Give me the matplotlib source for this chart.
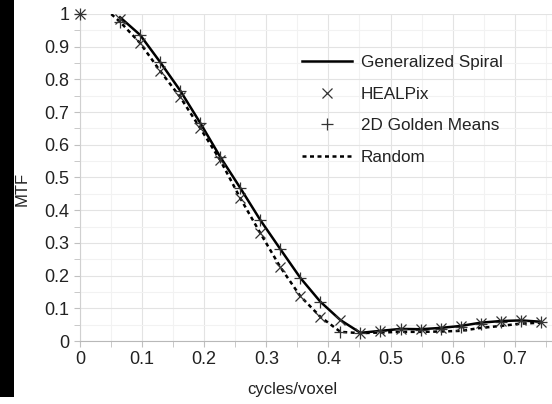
import numpy as np
import matplotlib
matplotlib.use("Agg")
import matplotlib.pyplot as plt
from matplotlib.patches import Rectangle
from matplotlib.ticker import MultipleLocator

plt.rcParams['font.family'] = ['Liberation Sans', 'DejaVu Sans']

# data: sample frequencies k/31
k = np.arange(0, 24)
freq = k / 31.0
nan = np.nan

spiral = [nan, nan, 0.99, 0.936, 0.853, 0.766, 0.667, 0.563, 0.468, 0.370, 0.281,
          0.193, 0.120, 0.064, 0.025, 0.031, 0.037, 0.036, 0.040, 0.046, 0.056,
          0.061, 0.063, 0.059]
random_ = [nan, 1.03, 0.976, 0.911, 0.826, 0.746, 0.651, 0.553, 0.437, 0.330, 0.226,
           0.137, 0.074, 0.028, 0.024, 0.026, 0.028, 0.028, 0.029, 0.031, 0.040,
           0.046, 0.053, 0.056]
healpix = [1.0, nan, 0.985, 0.911, 0.826, 0.746, 0.651, 0.553, 0.437, 0.330, 0.226,
           0.137, 0.074, 0.064, 0.025, 0.031, 0.037, 0.036, 0.040, 0.046, 0.056,
           0.061, 0.063, 0.059]
golden = [1.0, nan, 0.976, 0.936, 0.853, 0.766, 0.667, 0.563, 0.468, 0.370, 0.281,
          0.193, 0.120, 0.027, 0.025, 0.031, 0.036, 0.034, 0.037, 0.042, 0.052,
          0.058, 0.060, 0.058]

fig = plt.figure(figsize=(5.52, 4.04), dpi=100)
fig.patches.append(Rectangle((0, 7/404), 14/552, 1 - 7/404, transform=fig.transFigure,
                             facecolor='black', edgecolor='none', zorder=0))

ax = fig.add_axes([80/552, 63/404, 472/552, 327/404])
ax.set_xlim(0, 472/621)
ax.set_ylim(0, 1)

ax.xaxis.set_major_locator(MultipleLocator(0.1))
ax.xaxis.set_minor_locator(MultipleLocator(0.05))
ax.yaxis.set_major_locator(MultipleLocator(0.1))
ax.yaxis.set_minor_locator(MultipleLocator(0.05))
ax.grid(which='major', color='#e3e3e3', lw=0.8)
ax.grid(which='minor', color='#f2f2f2', lw=0.8)
ax.set_axisbelow(True)

for s in ['top', 'right']:
    ax.spines[s].set_visible(False)
ax.spines['left'].set_color('#d0d0d0')
ax.spines['bottom'].set_color('#b8b8b8')
ax.tick_params(which='both', direction='out', color='#c0c0c0', labelsize=13, labelcolor='#222222')
ax.tick_params(which='major', length=4)
ax.tick_params(which='minor', length=4)

def fmt(v, pos):
    s = f"{v:.1f}"
    if s.endswith('.0'):
        s = s[:-2]
    return s
ax.xaxis.set_major_formatter(plt.FuncFormatter(fmt))
ax.yaxis.set_major_formatter(plt.FuncFormatter(fmt))

ax.plot(freq, spiral, color='black', lw=1.8, label='Generalized Spiral', zorder=3)
ax.plot(freq, healpix, ls='none', marker='x', ms=7, mew=0.9, color='#333333',
        label='HEALPix', zorder=4, clip_on=False)
ax.plot(freq, golden, ls='none', marker='+', ms=8, mew=0.9, color='#333333',
        label='2D Golden Means', zorder=4, clip_on=False)
ax.plot(freq, random_, color='black', lw=1.8, ls=(0, (1.6, 1.4)), label='Random', zorder=3)

leg = ax.legend(loc='upper left', bbox_to_anchor=(222/472, (341-55)/327), frameon=False,
                fontsize=12.3, handlelength=2.9, handletextpad=0.55, labelspacing=0.97,
                borderpad=0, borderaxespad=0)
for t in leg.get_texts():
    t.set_color('#222222')

ax.set_xlabel('cycles/voxel', fontsize=12, color='#222222')
ax.xaxis.set_label_coords(212/472, -41/327)
ax.set_ylabel('MTF', fontsize=12, color='#222222')
ax.yaxis.set_label_coords(-50/472, 152/327)

fig.savefig('out.png', dpi=100)
